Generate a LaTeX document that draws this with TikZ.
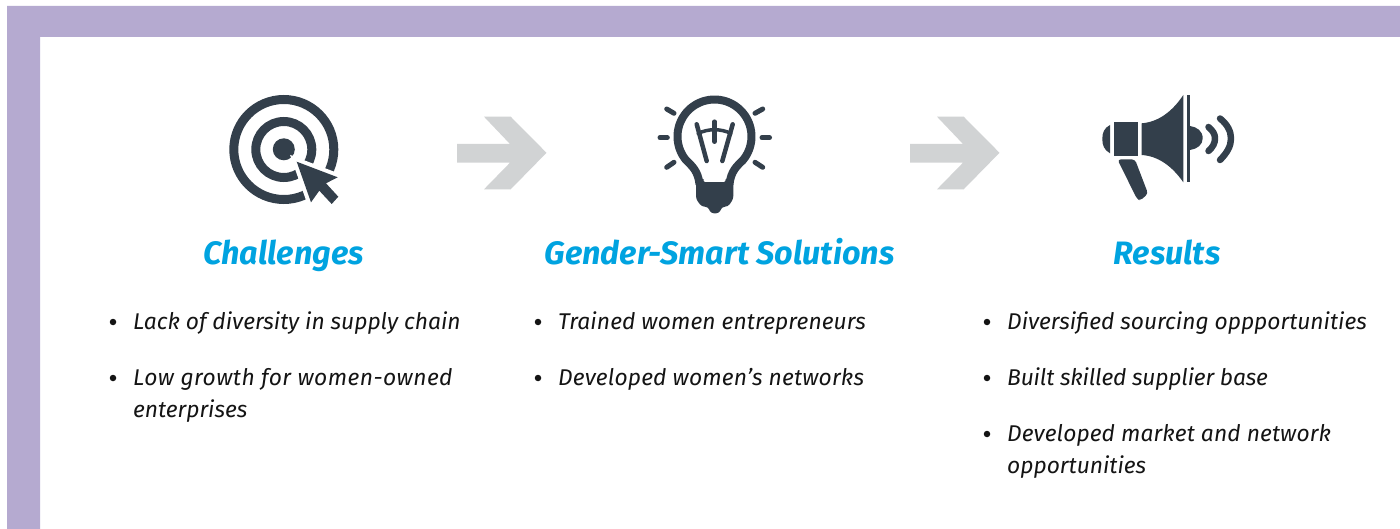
\documentclass[tikz,border=0pt]{standalone}
\usepackage{fontspec}
\setmainfont{Fira Sans}
\definecolor{frameC}{HTML}{B5AAD0}
\definecolor{iconC}{HTML}{333F4B}
\definecolor{arrowC}{HTML}{D1D3D4}
\definecolor{headC}{HTML}{00A3E0}
\definecolor{bodyC}{HTML}{141414}
\newcommand{\spaced}[1]{\addfontfeature{LetterSpace=#1}}
\tikzset{
  headtext/.style={anchor=base,inner sep=0pt,text=headC,font=\fontsize{32.4}{34}\selectfont\bfseries\itshape},
  itemtext/.style={anchor=north west,inner sep=0pt,align=left,text=bodyC,font=\fontsize{22.8}{32}\selectfont\itshape},
  bulletdot/.style={circle,fill=bodyC,draw=none,inner sep=0pt,minimum size=6.5pt},
  iconfill/.style={fill=iconC,draw=none},
  iconline/.style={draw=iconC,line cap=round,line join=round},
  bigarrow/.style={fill=arrowC,draw=none}
}
\newcommand{\grayarrow}[1]{\fill[bigarrow,shift={(#1,0)}] (457,144) -- (510,144) -- (484,116.7) -- (510.7,116.7) -- (546.5,152.8) -- (510.7,189.3) -- (484,189.3) -- (510,162.7) -- (457,162.7) -- cycle;}
\begin{document}
\begin{tikzpicture}[x=1pt,y=-1pt]
\useasboundingbox (0,0) rectangle (1400,529);
\fill[white] (0,0) rectangle (1400,529);
% frame
\fill[frameC] (7,6) -- (1400,6) -- (1400,37) -- (40,37) -- (40,529) -- (7,529) -- cycle;
% target
\draw[iconC,line width=9pt] (283.8,149.5) circle[radius=50pt];
\draw[iconC,line width=9pt] (283.8,149.5) circle[radius=28pt];
\fill[iconfill] (283.8,149.3) circle[radius=11pt];
\path[fill=white,draw=white,line width=8pt,line join=miter] (296.7,161.7) -- (337.7,177.3) -- (326,183.3) -- (338.3,196.7) -- (331.7,204) -- (319.3,190.7) -- (311,202.3) -- cycle;
\fill[iconfill] (296.7,161.7) -- (337.7,177.3) -- (326,183.3) -- (338.3,196.7) -- (331.7,204) -- (319.3,190.7) -- (311,202.3) -- cycle;
% arrows
\grayarrow{0}
\grayarrow{453}
% bulb
\draw[iconline,line width=8pt] (699.5,184) .. controls (698,171) and (692,166) .. (686.2,160.3)
  -- plot[domain=140:400,samples=70] ({714.5+37*cos(\x)},{136.5+37*sin(\x)})
  .. controls (737,166) and (731,171) .. (729.5,184);
\fill[iconfill,rounded corners=3pt] (696,181) -- (696,199) -- (701.7,206.7) -- (708,206.7) -- (710.7,213.3) -- (719.3,213.3) -- (722,206.7) -- (728,206.7) -- (733.3,199) -- (733.3,181) -- cycle;
\fill[iconfill] (696,179) -- (733.3,179) -- (733.3,185) -- (696,185) -- cycle;
\fill[white,rounded corners=2pt] (703.5,172) -- (703.5,182) -- (725.5,182) -- (725.5,172) -- cycle;
\draw[iconline,line width=4.5pt] (696.7,124.3) -- (706.7,161);
\draw[iconline,line width=4.5pt] (732.7,124.3) -- (722.3,161);
\draw[iconline,line width=4.5pt] (714.5,121.7) -- (714.5,141.7);
\draw[iconline,line width=3.5pt] (698,133.5) .. controls (708,128.5) and (721,128.5) .. (731,133.5);
\draw[iconline,line width=5pt] (666.7,109) -- (674,113.3);
\draw[iconline,line width=5pt] (755,113.3) -- (762.7,109);
\draw[iconline,line width=5pt] (660,137.7) -- (667.3,137.7);
\draw[iconline,line width=5pt] (762,137.7) -- (769.5,137.7);
\draw[iconline,line width=5pt] (666.7,167.3) -- (674,162.3);
\draw[iconline,line width=5pt] (755,162.3) -- (762.7,167.3);
% megaphone
\fill[iconfill] (1110,125) .. controls (1104,128) and (1102.3,133) .. (1102.3,139) .. controls (1102.3,145) and (1104,150) .. (1110,153.3) -- cycle;
\fill[iconfill] (1114,122.3) rectangle (1138.3,155.7);
\fill[iconfill] (1141.7,123.3) .. controls (1158,122) and (1172,112) .. (1183.3,95) -- (1183.3,182.3) .. controls (1172,166) and (1158,156) .. (1141.7,155) -- cycle;
\fill[iconfill] (1186.7,95) rectangle (1190,182.3);
\fill[iconfill] (1190,126) .. controls (1197,127) and (1202.7,131) .. (1202.7,138.3) .. controls (1202.7,145) and (1197,149) .. (1190,150) -- cycle;
\fill[iconfill,rounded corners=3pt] (1117.5,159.5) -- (1135,159.5) -- (1148,193.5) -- (1140.5,200.5) -- (1137,199) -- cycle;
\draw[iconline,line width=6.5pt] (1208.5,127) .. controls (1213,131) and (1215,134) .. (1215,138.5) .. controls (1215,143) and (1213,147) .. (1208.5,151);
\draw[iconline,line width=6.5pt] (1220,118.5) .. controls (1227,124) and (1231,131) .. (1231,138.5) .. controls (1231,146) and (1227,153) .. (1220,160);
% headings
\node[headtext] (h1) at (283.5,264.7) {Challenges};
\node[headtext] (h2) at (719.5,264.7) {Gender-Smart Solutions};
\node[headtext] (h3) at (1167,264.7) {Results};
% bullets
\node[bulletdot] (b1) at (113,322) {};
\node[bulletdot] (b2) at (113,378) {};
\node[bulletdot] (b3) at (538,322) {};
\node[bulletdot] (b4) at (538,378) {};
\node[bulletdot] (b5) at (987,322) {};
\node[bulletdot] (b6) at (987,378) {};
\node[bulletdot] (b7) at (987,434) {};
% items
\node[itemtext] (t1) at (133,312) {Lack of diversity in supply chain};
\node[itemtext] (t2) at (133,368.5) {\spaced{2}Low growth for women-owned\\\spaced{0}enterprises};
\node[itemtext] (t3) at (558,312) {\spaced{0.5}Trained women entrepreneurs};
\node[itemtext] (t4) at (558,368.5) {\spaced{0.8}Developed women’s networks};
\node[itemtext] (t5) at (1007,312) {Diversified sourcing oppportunities};
\node[itemtext] (t6) at (1007,368) {\spaced{-0.8}Built skilled supplier base};
\node[itemtext] (t7) at (1007,424.5) {\spaced{0.5}Developed market and network\\\spaced{0}opportunities};
\end{tikzpicture}
\end{document}
